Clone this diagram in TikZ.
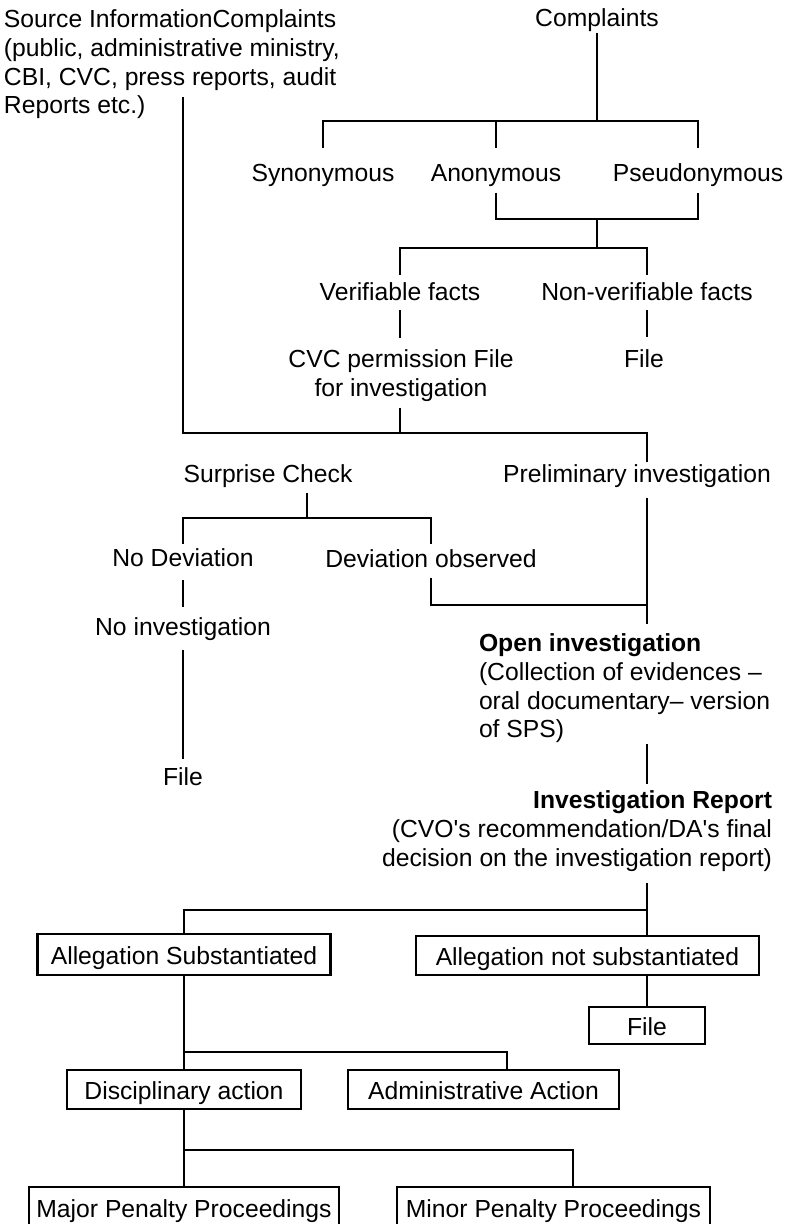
\documentclass[tikz,border=0pt]{standalone}
\usepackage{fontspec}
\newfontfamily\lbfont{Liberation Sans}
\begin{document}
\begin{tikzpicture}[x=1pt, y=-1pt, line width=2.7pt,
    lbl/.style={inner sep=0pt, outer sep=0pt, anchor=north, align=center,
        font=\lbfont\fontsize{24.7}{28.6}\selectfont},
    box/.style={draw, rectangle, inner sep=0pt, minimum height=39pt,
        text height=20pt, text depth=0pt,
        font=\lbfont\fontsize{24.7}{28.6}\selectfont}]
    \useasboundingbox (0,0) rectangle (790,1224);

    % Text labels, placed by the top of their first line
    \node[lbl, anchor=north west, align=left] (src) at (4,10) {%
        Source InformationComplaints\\
        (public, administrative ministry,\\
        CBI, CVC, press reports, audit\\
        Reports etc.)};
    \node[lbl] (cmp) at (597,9) {Complaints};

    \node[lbl] (syn) at (323,164) {Synonymous};
    \node[lbl] (ano) at (496,164.5) {Anonymous};
    \node[lbl] (pse) at (698,164) {Pseudonymous};

    \node[lbl] (ver) at (400,283) {Verifiable facts};
    \node[lbl] (nver) at (647,283) {Non-verifiable facts};
    \node[lbl] (cvc) at (401,350) {CVC permission File\\for investigation};
    \node[lbl] (file1) at (644,350) {File};

    \node[lbl] (sur) at (268,465) {Surprise Check};
    \node[lbl] (pre) at (637,465) {Preliminary investigation};
    \node[lbl] (nod) at (183,549) {No Deviation};
    \node[lbl] (dev) at (431,550) {Deviation observed};
    \node[lbl] (noi) at (183,618) {No investigation};
    \node[lbl] (file2) at (183,768) {File};

    \node[lbl, anchor=north west, align=left] (opn) at (479,634) {%
        \textbf{Open investigation}\\
        (Collection of evidences –\\
        oral documentary– version\\
        of SPS)};
    \node[lbl, anchor=north east, align=right] (rep) at (772,791) {%
        \textbf{Investigation Report}\\
        (CVO's recommendation/DA's final\\
        decision on the investigation report)};

    % Boxes
    \node[box, minimum width=293pt, minimum height=41pt] (sub) at (184,954.5) {Allegation Substantiated};
    \node[box, minimum width=343pt] (nsub) at (587.5,955.5) {Allegation not substantiated};
    \node[box, minimum width=116pt, minimum height=37pt] (file3) at (647,1025.5) {File};
    \node[box, minimum width=234pt] (dis) at (184,1089.5) {Disciplinary action};
    \node[box, minimum width=271pt] (adm) at (483.5,1089.5) {Administrative Action};
    \node[box, minimum width=310pt, minimum height=40pt] (maj) at (184,1207) {Major Penalty Proceedings};
    \node[box, minimum width=313pt, minimum height=40pt] (min) at (553.5,1207) {Minor Penalty Proceedings};

    % Junctions
    \coordinate (s0) at (183,97);
    \coordinate (j1) at (597,121);
    \coordinate (j2) at (597,219);
    \coordinate (j3) at (597,248);
    \coordinate (j4) at (400,433);
    \coordinate (j5) at (307,518);
    \coordinate (j6) at (647,605);
    \coordinate (j7) at (647,910);
    \coordinate (j8) at (184,1052);
    \coordinate (j9) at (184,1150);

    % Complaints branch
    \draw[shorten <=1pt] (cmp.south) -- (j1);
    \draw[shorten >=16pt] (j1) -| (syn.north);
    \draw[shorten >=16pt] (j1) -| (pse.north);
    \draw[shorten >=16.5pt] (ano.north |- j1) -- (ano.north);
    \draw[shorten <=6pt] (ano.south) |- (j2);
    \draw[shorten <=6pt] (pse.south) |- (j2);
    \draw (j2) -- (j3);
    \draw[shorten >=8pt] (j3) -| (ver.north);
    \draw[shorten >=8pt] (j3) -| (nver.north);
    \draw[shorten <=9pt, shorten >=12pt] (ver.south) -- (ver.south |- cvc.north);
    \draw[shorten <=9pt, shorten >=13pt] (nver.south) -- (nver.south |- file1.north);
    \draw[shorten <=6pt] (cvc.south -| ver.south) -- (j4);

    % Source line into preliminary investigation
    \draw[shorten >=3pt] (s0) |- (j4) -| ([xshift=10pt]pre.north);

    % Surprise check
    \draw[shorten <=5pt] ([xshift=39pt]sur.south) -- (j5);
    \draw[shorten >=5pt] (j5) -| (nod.north);
    \draw[shorten >=6pt] (j5) -| (dev.north);
    \draw[shorten <=13pt, shorten >=11pt] (nod.south) -- (noi.north);
    \draw[shorten <=9pt, shorten >=9pt] (noi.south) -- (file2.north);
    \draw[shorten <=10pt] (dev.south) |- (j6);

    % Investigation
    \draw[shorten <=10pt, shorten >=10pt] ([xshift=10pt]pre.south) -- (opn.north -| j6);
    \draw[shorten <=1pt, shorten >=7pt] (opn.south -| j6) -- (rep.north -| j6);
    \draw[shorten <=12pt] (rep.south -| j6) -- (j7);
    \draw (j7) -- (nsub.north -| j7);
    \draw (j7) -| (sub.north);

    % Outcomes
    \draw (nsub.south -| file3.north) -- (file3.north);
    \draw (sub.south) -- (dis.north);
    \draw (j8) -| ([xshift=23.5pt]adm.north);
    \draw (dis.south) -- (maj.north);
    \draw (j9) -| ([xshift=19.5pt]min.north);

\end{tikzpicture}
\end{document}
